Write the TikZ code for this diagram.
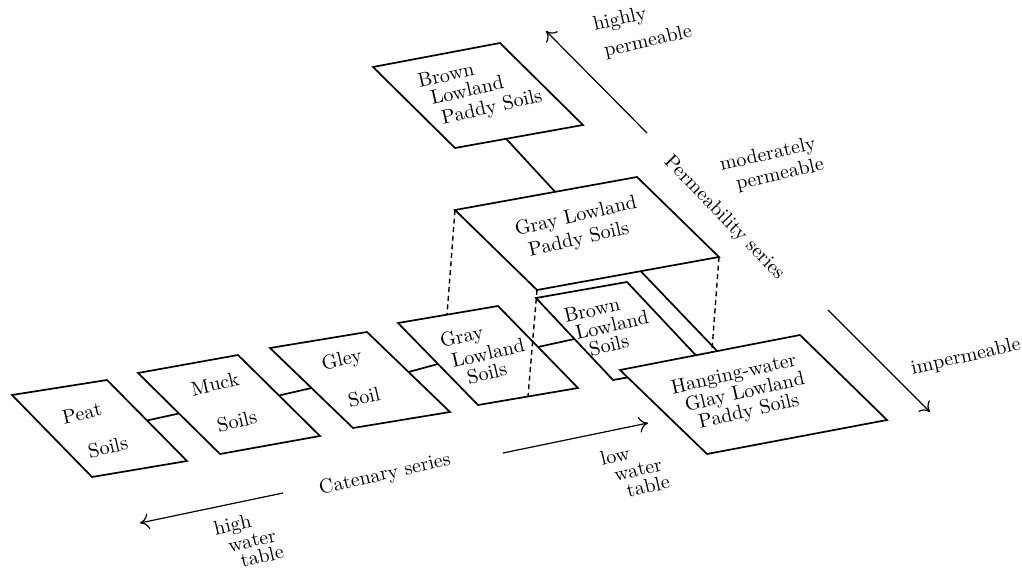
\documentclass[tikz,border=0pt]{standalone}
\usetikzlibrary{arrows.meta, calc}

\begin{document}
\begin{tikzpicture}[x=0.5pt, y=-0.5pt,
  soilface/.style={draw, line width=0.85pt, fill=white, line join=miter},
  link/.style={line width=0.85pt},
  hidden/.style={line width=0.7pt, dash pattern=on 2.5pt off 1.8pt},
  trend/.style={line width=0.6pt, -{To[length=4.5pt, width=8pt]}},
  lbl/.style={rotate=13, inner sep=0pt, font=\fontsize{10}{12}\selectfont},
  slopelbl/.style={rotate=-46, inner sep=0pt, font=\fontsize{10}{12}\selectfont}
]
\useasboundingbox (0,0) rectangle (1022,571);

% catenary series
\draw[soilface] (12,395) coordinate (peat-nw) -- (107,380) coordinate (peat-ne)
  -- (187,461) coordinate (peat-se) -- (92,477) coordinate (peat-sw) -- cycle;
\draw[soilface] (138,373) coordinate (muck-nw) -- (238,355) coordinate (muck-ne)
  -- (320,436) coordinate (muck-se) -- (220,454) coordinate (muck-sw) -- cycle;
\draw[soilface] (270,348) coordinate (gley-nw) -- (367,332) coordinate (gley-ne)
  -- (450,412) coordinate (gley-se) -- (353,428) coordinate (gley-sw) -- cycle;
\draw[soilface] (398,323) coordinate (gls-nw) -- (498,306) coordinate (gls-ne)
  -- (578,388) coordinate (gls-se) -- (478,405) coordinate (gls-sw) -- cycle;
\draw[soilface] (536,298) coordinate (bls-nw) -- (627,282) coordinate (bls-ne)
  -- (704,364) coordinate (bls-se) -- (613,380) coordinate (bls-sw) -- cycle;

\draw[link] ($(peat-ne)!.5!(peat-se)$) -- ($(muck-nw)!.5!(muck-sw)$);
\draw[link] ($(muck-ne)!.5!(muck-se)$) -- ($(gley-nw)!.5!(gley-sw)$);
\draw[link] ($(gley-ne)!.5!(gley-se)$) -- ($(gls-nw)!.5!(gls-sw)$);
\draw[link] ($(gls-ne)!.5!(gls-se)$) -- ($(bls-nw)!.5!(bls-sw)$);

% permeability series
\draw[soilface] (373,67) coordinate (blp-nw) -- (500,43) coordinate (blp-ne)
  -- (583,125) coordinate (blp-se) -- (455,148) coordinate (blp-sw) -- cycle;
\draw[soilface] (455,210) coordinate (glp-nw) -- (637,177) coordinate (glp-ne)
  -- (719,257) coordinate (glp-se) -- (537,290) coordinate (glp-sw) -- cycle;
\draw[soilface] (620,370) coordinate (hw-nw) -- (800,335) coordinate (hw-ne)
  -- (887,420) coordinate (hw-se) -- (707,454) coordinate (hw-sw) -- cycle;

\draw[link] ($(blp-sw)!.4!(blp-se)$) -- ($(glp-nw)!.55!(glp-ne)$);
\draw[link] ($(glp-sw)!.57!(glp-se)$) -- ($(hw-nw)!.54!(hw-ne)$);

% hidden edges
\draw[hidden] (glp-nw) -- ($(gls-nw)!.49!(gls-ne)$);
\draw[hidden] (glp-sw) -- ($(gls-sw)!.5!(gls-se)$);
\draw[hidden] (glp-se) -- ($(hw-nw)!.51!(hw-ne)$);

% box texts
\node[lbl] (peat-a) at (82,413) {Peat};
\node[lbl] (peat-b) at (108,447) {Soils};
\node[lbl] (muck-a) at (215,384) {Muck};
\node[lbl] (muck-b) at (237,421) {Soils};
\node[lbl] (gley-a) at (342,361) {Gley};
\node[lbl] (gley-b) at (364,397) {Soil};
\node[lbl] (gls-a) at (462,338) {Gray};
\node[lbl] (gls-b) at (488,353) {Lowland};
\node[lbl] (gls-c) at (487,373) {Soils};
\node[lbl] (bls-a) at (592,310) {Brown};
\node[lbl] (bls-b) at (612,325) {Lowland};
\node[lbl] (bls-c) at (609,345) {Soils};
\node[lbl] (blp-a) at (446,75) {Brown};
\node[lbl] (blp-b) at (467,90) {Lowland};
\node[lbl] (blp-c) at (492,108) {Paddy Soils};
\node[lbl] (glp-a) at (576,217) {Gray Lowland};
\node[lbl] (glp-b) at (579,240) {Paddy Soils};
\node[lbl] (hw-a) at (734,375) {Hanging-water};
\node[lbl] (hw-b) at (745,393) {Glay Lowland};
\node[lbl] (hw-c) at (749,412) {Paddy Soils};

% series arrows
\coordinate (cat-r0) at (503,453);
\coordinate (cat-r1) at (648,423);
\coordinate (cat-l0) at (283,493);
\coordinate (cat-l1) at (140,523);
\coordinate (perm-u0) at (647,133);
\coordinate (perm-u1) at (546,31);
\coordinate (perm-d0) at (828,310);
\coordinate (perm-d1) at (930,412);
\draw[trend] (cat-r0) -- (cat-r1);
\draw[trend] (cat-l0) -- (cat-l1);
\draw[trend] (perm-u0) -- (perm-u1);
\draw[trend] (perm-d0) -- (perm-d1);

% series labels
\node[lbl] (cat) at (385,475) {Catenary series};
\node[lbl] (high-a) at (233,526) {high};
\node[lbl] (high-b) at (252,541) {water};
\node[lbl] (high-c) at (262,556) {table};
\node[lbl] (low-a) at (615,456) {low};
\node[lbl] (low-b) at (638,470) {water};
\node[lbl] (low-c) at (648,486) {table};
\node[slopelbl] (perm) at (724,218) {Permeability series};
\node[lbl] (hp-a) at (620,20) {highly};
\node[lbl] (hp-b) at (648,42) {permeable};
\node[lbl] (mp-a) at (768,155) {moderately};
\node[lbl] (mp-b) at (780,175) {permeable};
\node[lbl] (imp) at (966,357) {impermeable};
\end{tikzpicture}
\end{document}
